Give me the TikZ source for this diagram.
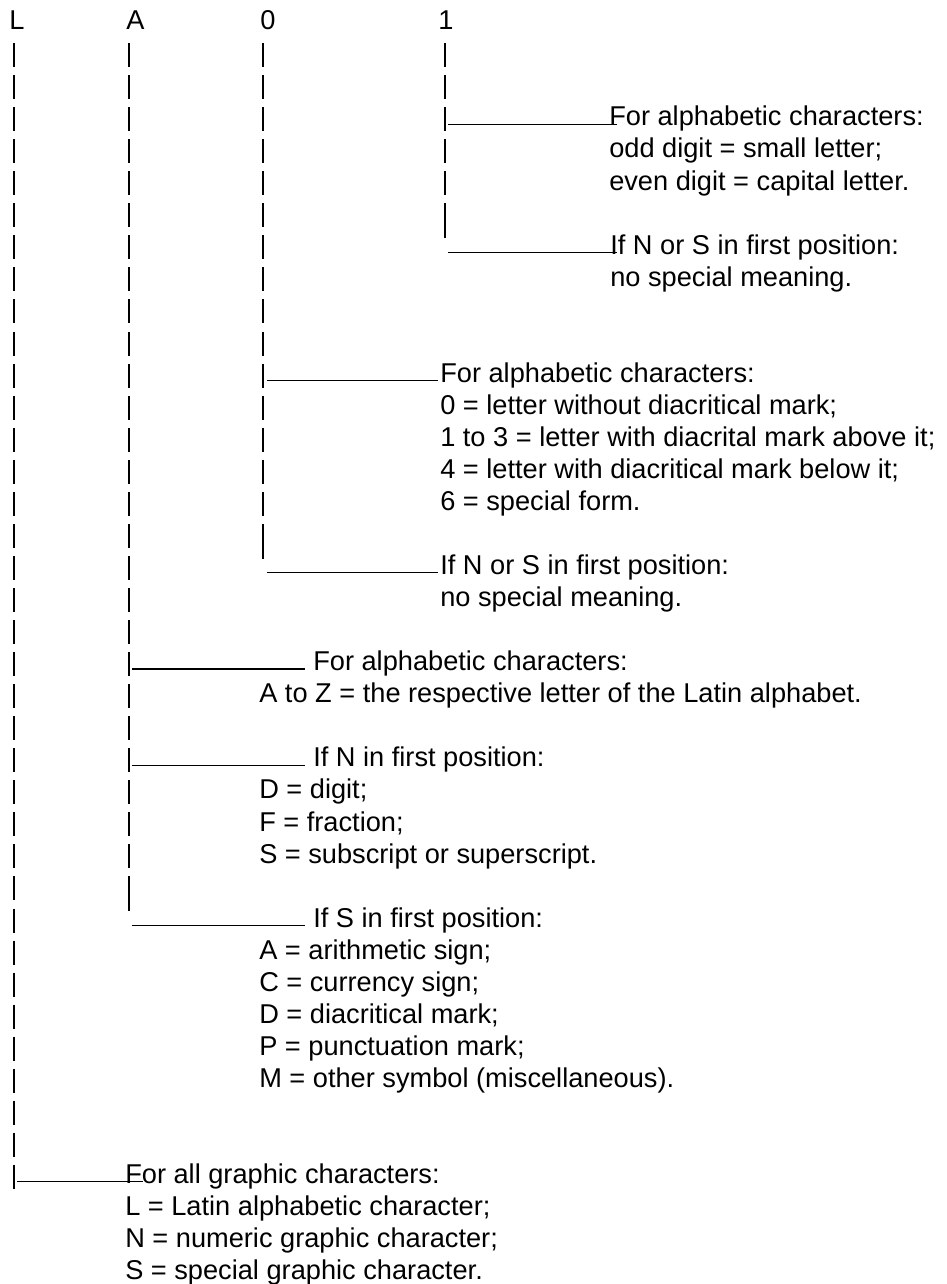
\documentclass[tikz,border=0pt]{standalone}
\usepackage{fontspec}
\setmainfont{Liberation Sans}
\begin{document}
\begin{tikzpicture}[x=0.75pt,y=-0.75pt]
\tikzstyle{every node}=[inner sep=0pt,anchor=north west,align=left,font=\fontsize{20.4}{24.04}\selectfont]
\tikzstyle{colbar}=[line width=1.6pt,dash pattern=on 18pt off 6.04pt]
\tikzstyle{stub}=[line width=1.6pt]
\tikzstyle{branch}=[line width=0.8pt]
\useasboundingbox (0,0) rectangle (946,1284);
\node (hL) at (9,7.06) {\strut L};
\node (hA) at (126,7.06) {\strut A};
\node (h0) at (260,7.06) {\strut 0};
\node (h1) at (438,7.06) {\strut 1};
\node (d1a) at (609,103.21) {\strut For alphabetic characters:\\odd digit = small letter;\\even digit = capital letter.};
\node (d1b) at (610,231.41) {\strut If N or S in first position:\\no special meaning.};
\node (d0a) at (440,359.61) {\strut For alphabetic characters:\\0 = letter without diacritical mark;\\1 to 3 = letter with diacrital mark above it;\\4 = letter with diacritical mark below it;\\6 = special form.};
\node (d0b) at (440,551.91) {\strut If N or S in first position:\\no special meaning.};
\node (dAa) at (259,648.06) {\strut\hspace*{40.5pt}For alphabetic characters:\\A to Z = the respective letter of the Latin alphabet.};
\node (dAb) at (259,744.21) {\strut\hspace*{40.5pt}If N in first position:\\D = digit;\\F = fraction;\\S = subscript or superscript.};
\node (dAc) at (259,904.46) {\strut\hspace*{40.5pt}If S in first position:\\A = arithmetic sign;\\C = currency sign;\\D = diacritical mark;\\P = punctuation mark;\\M = other symbol (miscellaneous).};
\node (dL) at (125,1160.86) {\strut For all graphic characters:\\L = Latin alphabetic character;\\N = numeric graphic character;\\S = special graphic character.};
\coordinate (topL) at (14,43.05);
\coordinate (endL) at (14,1188.8);
\coordinate (topA) at (129,43.05);
\coordinate (stubA) at (129,876.35);
\coordinate (endA) at (129,911.35);
\coordinate (top0) at (263,43.05);
\coordinate (stub0) at (263,523.8);
\coordinate (end0) at (263,558.8);
\coordinate (top1) at (445,43.05);
\coordinate (stub1) at (445,203.3);
\coordinate (end1) at (445,238);
\draw[colbar] (topL) -- (endL);
\draw[colbar] (topA) -- (endA);
\draw[stub] (stubA) -- (endA);
\draw[colbar] (top0) -- (end0);
\draw[stub] (stub0) -- (end0);
\draw[colbar] (top1) -- (end1);
\draw[stub] (stub1) -- (end1);
\coordinate (b1a) at (448,124.15);
\coordinate (e1a) at (617,124.15);
\coordinate (b1b) at (448,252.35);
\coordinate (e1b) at (617,252.35);
\coordinate (b0a) at (267,380.55);
\coordinate (e0a) at (438,380.55);
\coordinate (b0b) at (267,572.85);
\coordinate (e0b) at (438,572.85);
\coordinate (bAa) at (132,669);
\coordinate (eAa) at (305,669);
\coordinate (bAb) at (132,765.15);
\coordinate (eAb) at (305,765.15);
\coordinate (bAc) at (132,925.4);
\coordinate (eAc) at (305,925.4);
\coordinate (bL) at (17,1181.8);
\coordinate (eL) at (143,1181.8);
\draw[branch] (b1a) -- (e1a);
\draw[branch] (b1b) -- (e1b);
\draw[branch] (b0a) -- (e0a);
\draw[branch] (b0b) -- (e0b);
\draw[branch] (bAa) -- (eAa);
\draw[branch] (bAb) -- (eAb);
\draw[branch] (bAc) -- (eAc);
\draw[branch] (bL) -- (eL);
\end{tikzpicture}
\end{document}
